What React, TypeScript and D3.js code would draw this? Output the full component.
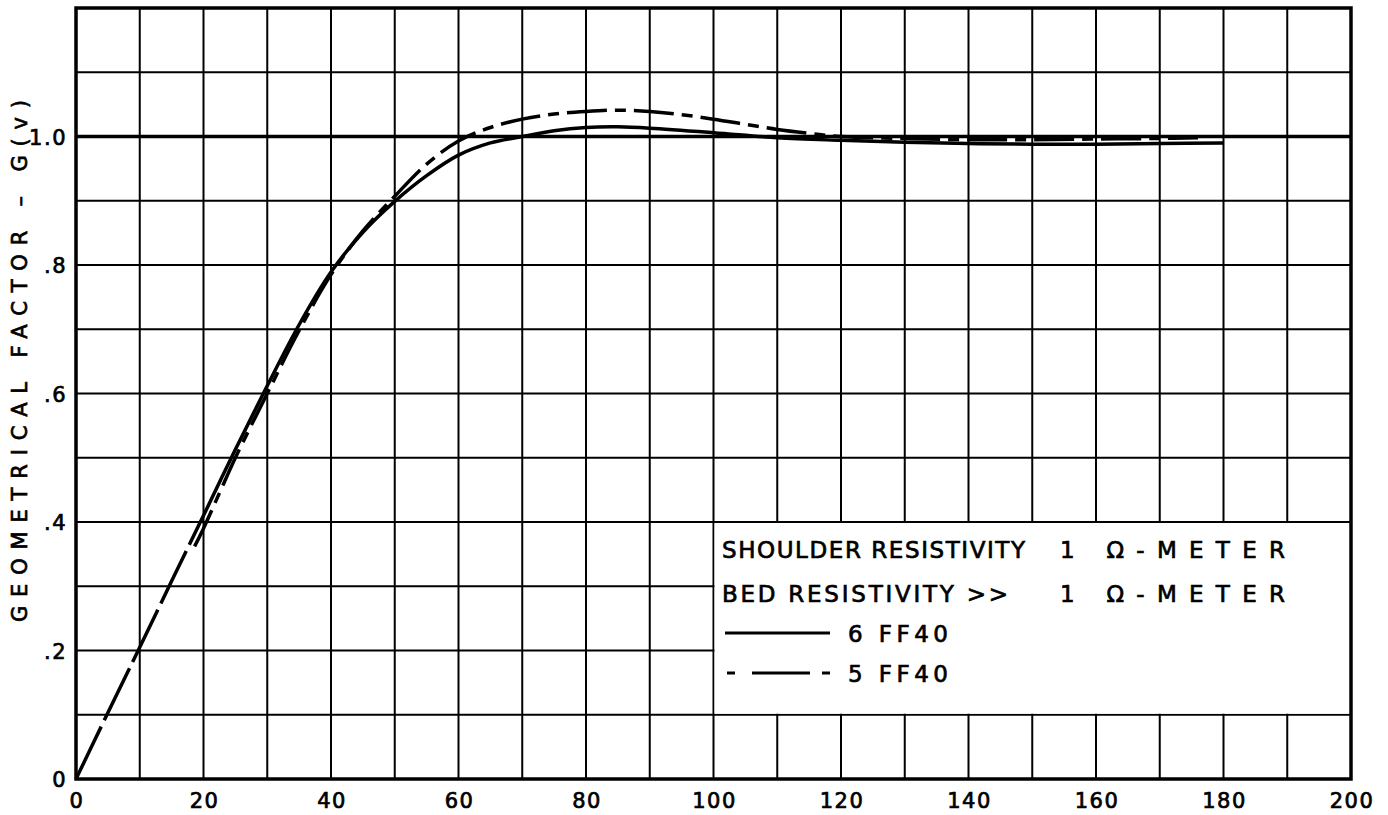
import React from "react";
import * as d3 from "d3";

// ---- data ----
const xTicks = [0, 20, 40, 60, 80, 100, 120, 140, 160, 180, 200];
const yTicks = [0, 0.2, 0.4, 0.6, 0.8, 1.0];
const yTickLabels = ["0", ".2", ".4", ".6", ".8", "1.0"];

// 6 FF40 (solid) — extrapolated (long dashes) part from origin
const solidExtrapX = [0, 5, 10, 15, 20];
const solidExtrapY = [0, 0.103, 0.205, 0.308, 0.41];

// 6 FF40 (solid)
const solidX = [20, 25, 30, 35, 40, 45, 50, 55, 60, 65, 70, 75, 80, 85, 90, 100, 110, 120, 130, 140, 150, 160, 170, 180];
const solidY = [0.41, 0.513, 0.612, 0.707, 0.789, 0.851, 0.899, 0.939, 0.971, 0.99, 1.0, 1.009, 1.014, 1.015, 1.013, 1.006, 0.998, 0.994, 0.991, 0.989, 0.988, 0.988, 0.989, 0.99];

// 5 FF40 (dashed)
const dashX = [18.6, 20, 22.5, 25, 30, 35, 40, 45, 50, 55, 60, 65, 70, 75, 80, 85, 90, 95, 100, 105, 110, 115, 120, 130, 140, 150, 160, 170, 176];
const dashY = [0.362, 0.39, 0.445, 0.5, 0.6, 0.698, 0.785, 0.853, 0.907, 0.957, 0.993, 1.014, 1.027, 1.035, 1.039, 1.041, 1.039, 1.034, 1.027, 1.019, 1.011, 1.005, 1.0, 0.997, 0.995, 0.995, 0.996, 0.997, 0.998];

const legendLines = [
  ["SHOULDER RESISTIVITY", "1 \u03A9-METER"],
  ["BED RESISTIVITY >>", "1 \u03A9-METER"],
];
const seriesNames = ["6 FF40", "5 FF40"];
const yTitle = "GEOMETRICAL  FACTOR  \u2013  G(v)";

const W = 1388;
const H = 815;
const L = 76, R = 1351, T = 8, B = 779;
const FONT = "'DejaVu Sans', 'Liberation Sans', sans-serif";

export default function App() {
  const x = d3.scaleLinear().domain([0, 200]).range([L, R]);
  const y = d3.scaleLinear().domain([0, 1.2]).range([B, T]);
  const line = d3
    .line<[number, number]>()
    .x((d) => x(d[0]))
    .y((d) => y(d[1]))
    .curve(d3.curveCatmullRom.alpha(0.5));

  const zip = (a: number[], b: number[]) => a.map((v, i) => [v, b[i]] as [number, number]);

  const vGrid = d3.range(10, 200, 10);
  const hGrid = d3.range(1, 12).map((v) => v / 10);

  // legend box covers x 100..200, y 0.1..0.4
  const lx0 = x(100), lx1 = x(200), ly0 = y(0.4), ly1 = y(0.1);

  const ink = { fill: "#000", stroke: "#000", strokeWidth: 0.7 };

  return (
    <svg
      width={W}
      height={H}
      style={{ position: "absolute", left: 0, top: 0, display: "block", background: "#fff" }}
      fontFamily={FONT}
    >
      <rect x={0} y={0} width={W} height={H} fill="#fff" />
      {/* grid */}
      <g stroke="#000" strokeWidth={2}>
        {vGrid.map((v) => (
          <line key={"v" + v} x1={x(v)} x2={x(v)} y1={T} y2={B} />
        ))}
        {hGrid.map((v) => (
          <line
            key={"h" + v}
            x1={L}
            x2={R}
            y1={y(v)}
            y2={y(v)}
            strokeWidth={Math.abs(v - 1) < 1e-6 ? 3.5 : 2}
          />
        ))}
      </g>
      {/* legend box (blank area) */}
      <rect x={lx0 + 1} y={ly0 + 1} width={lx1 - lx0 - 2} height={ly1 - ly0 - 2} fill="#fff" />
      {/* frame */}
      <rect x={L} y={T} width={R - L} height={B - T} fill="none" stroke="#000" strokeWidth={3.5} />

      {/* curves */}
      <path
        d={line(zip(solidExtrapX, solidExtrapY)) || ""}
        fill="none"
        stroke="#000"
        strokeWidth={3.5}
        strokeDasharray="58,7"
      />
      <path d={line(zip(solidX, solidY)) || ""} fill="none" stroke="#000" strokeWidth={3.5} />
      <path
        d={line(zip(dashX, dashY)) || ""}
        fill="none"
        stroke="#000"
        strokeWidth={3.5}
        strokeDasharray="40,8,11,8"
      />

      {/* x tick labels */}
      <g fontSize={21} textAnchor="middle" letterSpacing={1.5} {...ink}>
        {xTicks.map((t) => (
          <text key={t} x={x(t) + 1} y={808}>
            {t}
          </text>
        ))}
      </g>
      {/* y tick labels */}
      <g fontSize={21} textAnchor="end" letterSpacing={1.5} {...ink}>
        {yTicks.map((t, i) => (
          <text key={t} x={67} y={y(t) + 8}>
            {yTickLabels[i]}
          </text>
        ))}
      </g>
      {/* y title */}
      <text
        transform={`translate(27, ${361}) rotate(-90)`}
        textAnchor="middle"
        fontSize={21}
        textLength={522}
        lengthAdjust="spacing"
        {...ink}
      >
        {yTitle}
      </text>

      {/* legend */}
      <g fontSize={23} {...ink}>
        {legendLines.map((ln, i) => (
          <g key={i}>
            <text x={722} y={558 + i * 44} textLength={i === 0 ? 303 : 286} lengthAdjust="spacing">
              {ln[0]}
            </text>
            <text x={1060} y={558 + i * 44} textLength={225} lengthAdjust="spacing">
              {ln[1]}
            </text>
          </g>
        ))}
        <line x1={725} x2={830} y1={633} y2={633} stroke="#000" strokeWidth={3} />
        <line x1={727} x2={830} y1={673} y2={673} stroke="#000" strokeWidth={3} strokeDasharray="8,17,58,12,8" />
        {seriesNames.map((s, i) => (
          <text key={s} x={848} y={642 + i * 40} textLength={100} lengthAdjust="spacing">
            {s}
          </text>
        ))}
      </g>
    </svg>
  );
}
